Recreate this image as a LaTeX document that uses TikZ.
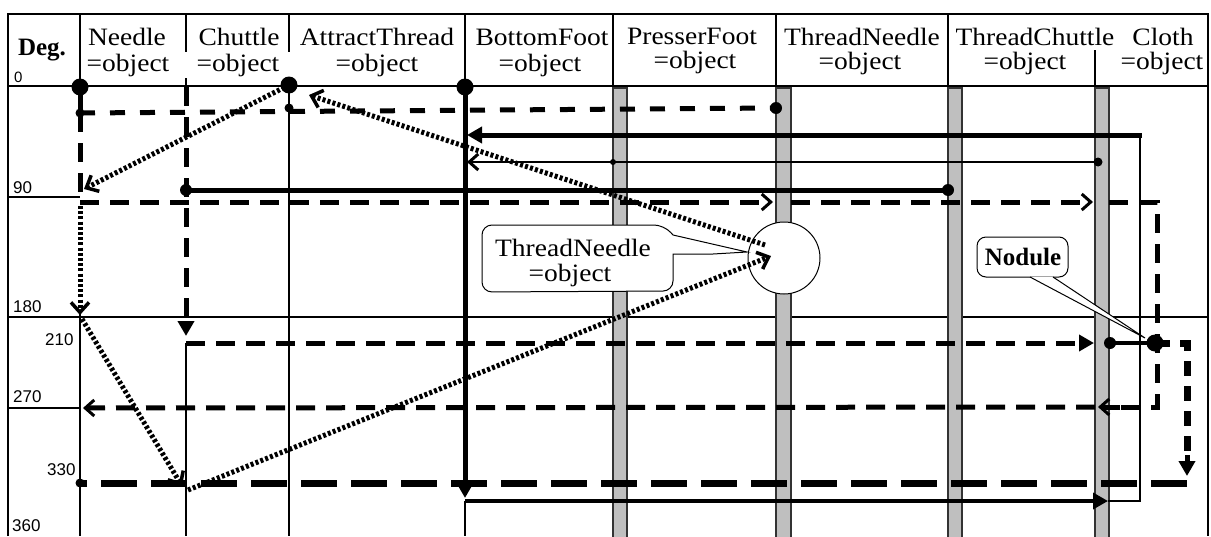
\documentclass[tikz,border=0pt]{standalone}
\usepackage{fontspec}
\usepackage{graphicx}
\setmainfont{Liberation Serif}
\newfontfamily\ticksf{Liberation Sans}
\usetikzlibrary{arrows.meta}
\newcommand\sx[1]{\scalebox{1.1}[1]{#1}}
\begin{document}
\begin{tikzpicture}[x=1pt,y=-1pt,
  gridln/.style={line width=1.5pt},
  bar/.style={fill=black!25, draw=black!80, line width=1.2pt},
  thk/.style={line width=5pt},
  med/.style={line width=3.5pt},
  thn/.style={line width=2.5pt},
  dsh/.style={line width=5pt, dash pattern=on 19pt off 11pt},
  dshs/.style={line width=5pt, dash pattern=on 15pt off 15pt},
  dshb/.style={line width=7pt, dash pattern=on 15pt off 10pt},
  ldsh/.style={line width=7pt, dash pattern=on 36pt off 14pt},
  dotl/.style={line width=5pt, dash pattern=on 3pt off 2.2pt},
  endF/.style={-{Triangle[length=15pt,width=16pt]}},
  endO/.style={-{Straight Barb[length=9pt,width=16pt,line width=3pt]}},
  endD/.style={-{Straight Barb[length=10pt,width=18pt,line width=3.5pt]}},
  hdr/.style={font=\fontsize{25}{27}\selectfont, anchor=base, inner sep=0pt},
  tick/.style={font=\ticksf\fontsize{17}{17}\selectfont, anchor=base west, inner sep=0pt},
  dotB/.style={circle, fill, inner sep=0pt, minimum size=17pt},
  dotM/.style={circle, fill, inner sep=0pt, minimum size=12pt},
  dotS/.style={circle, fill, inner sep=0pt, minimum size=9pt},
  dotXS/.style={circle, fill, inner sep=0pt, minimum size=6pt},
  callout/.style={fill=white, draw, line width=1pt}
]
\fill[white] (0,0) rectangle (1211,536);
\useasboundingbox (0,0) rectangle (1211,536);

% ---------- frame and header grid ----------
\draw[gridln] (8,536) -- (8,14) -- (1208,14) -- (1208,536);
\draw[gridln] (8,86) -- (1208,86);
\draw[gridln] (80,14) -- (80,86);
\draw[gridln] (186,14) -- (186,52);
\draw[gridln] (186,78) -- (186,86);
\draw[gridln] (289,14) -- (289,52);
\draw[gridln] (465,14) -- (465,86);
\draw[gridln] (613,14) -- (613,86);
\draw[gridln] (776,14) -- (776,86);
\draw[gridln] (948,14) -- (948,86);
\draw[gridln] (1095,50) -- (1095,86);

% ---------- body grid ----------
\draw[gridln] (8,197) -- (80,197);
\draw[gridln] (8,317) -- (1208,317);
\draw[gridln] (8,408) -- (80,408);
\draw[gridln] (80,310) -- (80,536);
\draw[gridln] (186,343) -- (186,536);
\draw[gridln] (289,86) -- (289,536);
\draw[gridln] (465,501) -- (465,536);

% ---------- life bars ----------
\filldraw[bar] (613,88) rectangle (627,540);
\filldraw[bar] (776,88) rectangle (791,540);
\filldraw[bar] (948,88) rectangle (962,540);
\filldraw[bar] (1095,88) rectangle (1109,540);

% ---------- callouts ----------
\node[circle, callout, minimum size=72pt, inner sep=0pt] (tnc) at (784,258) {};
\draw[callout] (482,250) [rounded corners=10pt] -- (482,225) -- (664,225)
   [sharp corners] -- (673,235) -- (747,252) -- (713,254) -- (673,254)
   [rounded corners=10pt] -- (673,291) -- (482,292) -- (482,250) [sharp corners] -- cycle;
\node[hdr] (cTN1) at (573,256) {\sx{ThreadNeedle}};
\node[hdr] (cTN2) at (570,281) {\sx{=object}};

\draw[callout, rounded corners=9pt] (977,237) rectangle (1068,277);
\draw[callout] (1030,277) -- (1145,338) -- (1053,277);
\node[hdr, font=\bfseries\fontsize{25}{27}\selectfont] (nod) at (1023,265) {Nodule};

% ---------- coordinates ----------
\coordinate (N0) at (80,87);
\coordinate (N1) at (80,113);
\coordinate (A0) at (289,85);
\coordinate (A1) at (289,108);
\coordinate (T1) at (776,108);
\coordinate (B0) at (465,87);
\coordinate (C1) at (186,190);
\coordinate (TC1) at (948,190);
\coordinate (CL1) at (1098,162);
\coordinate (P1) at (613,162);
\coordinate (CL2) at (1110,343);
\coordinate (K) at (1155,343);
\coordinate (N5) at (80,483);

% ---------- dashed messages ----------
\draw[thk] (N0) -- (N1);
\draw[dshs] (N1) -- (T1);
\draw[dsh] (N1) -- (80,199);
\draw[dsh] (186,87) -- (186,118);
\draw[dsh, endF] (186,118) -- (186,336);
\draw[dsh, endO] (80,202) -- (773,202);
\draw[dsh, endO] (791,202) -- (1093,202);
\draw[dsh] (1109,202) -- (1157,202) -- (1157,407) -- (1104,407);
\draw[dsh, endO] (1120,407) -- (1098,407);
\draw[dsh, endO] (1095,407) -- (83,408);
\draw[dsh, endF] (186,343) -- (1094,343);
\draw[med] (CL2) -- (K);
\draw[dshb] (K) -- (1187,343) -- (1187,455);
\draw[thk, endF] (1187,455) -- (1187,476);
\draw[ldsh] (1187,483) -- (N5);

% ---------- solid messages ----------
\draw[thk, endF] (B0) -- (465,498);
\draw[med, endF] (465,501) -- (1108,501);
\draw[thn] (1108,501) -- (1140,501) -- (1140,135);
\draw[thk, endF] (1142,135) -- (467,135);
\draw[thn, endO] (CL1) -- (467,162);
\draw[thk] (C1) -- (TC1);

% ---------- dotted messages ----------
\draw[dotl, endD] (A0) -- (84,189);
\draw[dotl, endD] (80,206) -- (80,315);
\draw[dotl, endD] (82,319) -- (182,486);
\draw[dotl, endD] (188,490) -- (771,256);
\draw[dotl, endD] (765,245) -- (309,95);

% ---------- dots ----------
\node[dotB] (dN0) at (N0) {};
\node[dotS] (dN1) at (N1) {};
\node[dotB] (dA0) at (A0) {};
\node[dotS] (dA1) at (A1) {};
\node[dotM] (dT1) at (T1) {};
\node[dotB] (dB0) at (B0) {};
\node[dotM] (dC1) at (C1) {};
\node[dotM] (dTC1) at (TC1) {};
\node[dotS] (dCL1) at (CL1) {};
\node[dotXS] (dP1) at (P1) {};
\node[dotM] (dCL2) at (CL2) {};
\node[dotB] (dK) at (K) {};
\node[dotS] (dN5) at (N5) {};

% ---------- header texts ----------
\node[hdr, font=\bfseries\fontsize{25}{27}\selectfont] (hdeg) at (42,55) {Deg.};
\node[hdr] (h1a) at (127,45) {\sx{Needle}};
\node[hdr] (h1b) at (128,71) {\sx{=object}};
\node[hdr] (h2a) at (239,45) {\sx{Chuttle}};
\node[hdr] (h2b) at (238,71) {\sx{=object}};
\node[hdr] (h3a) at (377,45) {\sx{AttractThread}};
\node[hdr] (h3b) at (377,71) {\sx{=object}};
\node[hdr] (h4a) at (542,45) {\sx{BottomFoot}};
\node[hdr] (h4b) at (540,71) {\sx{=object}};
\node[hdr] (h5a) at (692,44) {\sx{PresserFoot}};
\node[hdr] (h5b) at (695,68) {\sx{=object}};
\node[hdr] (h6a) at (862,45) {\sx{ThreadNeedle}};
\node[hdr] (h6b) at (860,69) {\sx{=object}};
\node[hdr] (h7a) at (1035,45) {\sx{ThreadChuttle}};
\node[hdr] (h7b) at (1025,69) {\sx{=object}};
\node[hdr] (h8a) at (1163,45) {\sx{Cloth}};
\node[hdr] (h8b) at (1162,69) {\sx{=object}};

% ---------- degree ticks ----------
\node[tick, font=\ticksf\fontsize{15}{15}\selectfont] (t0) at (14,82) {0};
\node[tick] (t90) at (13,193) {90};
\node[tick] (t180) at (13,312) {180};
\node[tick] (t210) at (45,345) {210};
\node[tick] (t270) at (13,402) {270};
\node[tick] (t330) at (47,475) {330};
\node[tick] (t360) at (12,531) {360};
\end{tikzpicture}
\end{document}
